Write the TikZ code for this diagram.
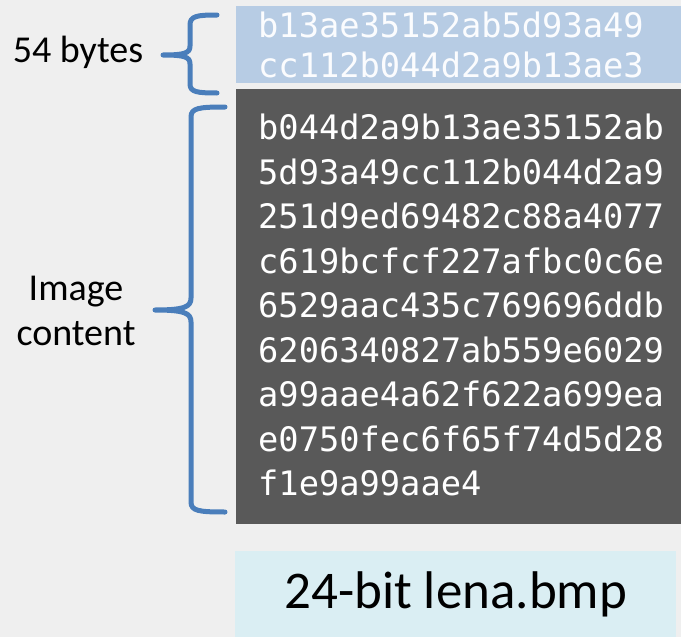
\documentclass[tikz,border=0pt]{standalone}
\usepackage{fontspec}
\setmainfont{Carlito}
\newfontfamily\hexfont{DejaVu Sans Mono}
\usetikzlibrary{positioning}

\definecolor{pagegray}{HTML}{EFEFEF}
\definecolor{hdrblue}{HTML}{B7CCE4}
\definecolor{bodygray}{HTML}{595959}
\definecolor{titleblue}{HTML}{DAEEF3}
\definecolor{braceblue}{HTML}{4A7EBB}

\begin{document}
\begin{tikzpicture}[x=1pt,y=-1pt,node distance=6pt]
\tikzstyle{every node}=[inner sep=0pt]
\tikzstyle{block}=[rectangle, anchor=north west, minimum width=445pt]
\tikzstyle{hex}=[anchor=north west, align=left, text=white]
\tikzstyle{label}=[align=center, font=\fontsize{38}{45}\selectfont]
\tikzstyle{brace}=[draw=braceblue, line width=5pt, line cap=round, line join=round]

\fill[pagegray] (0,0) rectangle (681,637);
\useasboundingbox (0,0) rectangle (681,637);

\node[block, fill=hdrblue, minimum height=77pt] (H) at (236,6) {};
\node[block, fill=bodygray, minimum height=435pt, below=5pt of H.south west, anchor=north west] (B) {};
\node[block, fill=titleblue, minimum width=441pt, minimum height=86pt] (T) at (235,551) {};

\node[hex, text=white!95!hdrblue, font=\hexfont\fontsize{33.7}{40}\selectfont] (Htxt) at (258,11.5)
  {b13ae35152ab5d93a49\\cc112b044d2a9b13ae3};
\node[hex, font=\hexfont\fontsize{33.7}{44.5}\selectfont] (Btxt) at (258,114)
  {b044d2a9b13ae35152ab\\5d93a49cc112b044d2a9\\251d9ed69482c88a4077\\c619bcfcf227afbc0c6e\\6529aac435c769696ddb\\6206340827ab559e6029\\a99aae4a62f622a699ea\\e0750fec6f65f74d5d28\\f1e9a99aae4};
\node[font=\fontsize{53}{60}\selectfont] (Ttxt) at (T.center) {24-bit lena.bmp};

\node[label, anchor=base] (hdrlbl) at (78,63) {54 bytes};
\node[label] (bodylbl) at (76,311) {Image\\content};

% braces
\draw[brace] (217,15) .. controls (197,15) and (190,16) .. (190,25) -- (190,46)
  .. controls (190,53) and (185,55) .. (163,55)
  .. controls (185,55) and (190,57) .. (190,64) -- (190,84)
  .. controls (190,92) and (197,93) .. (217,93);
\draw[brace] (225,107) .. controls (199,107) and (191,108) .. (191,117) -- (191,298)
  .. controls (191,307) and (184,310) .. (155,310)
  .. controls (184,310) and (191,313) .. (191,322) -- (191,502)
  .. controls (191,511) and (199,512) .. (225,512);
\end{tikzpicture}
\end{document}
